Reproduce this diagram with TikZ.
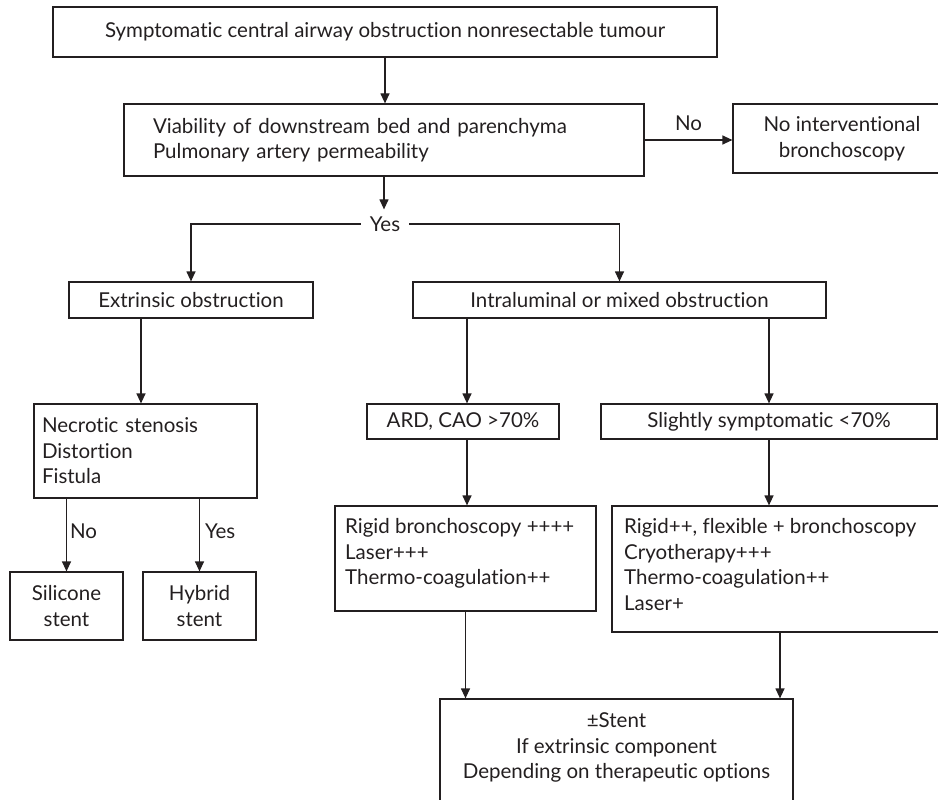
\documentclass[tikz,border=0pt]{standalone}
\usepackage{fontspec}
\setmainfont[Ligatures={NoCommon,NoRare,NoDiscretionary,NoContextual}]{Lato}
\usetikzlibrary{arrows.meta,calc}
\definecolor{ink}{HTML}{231F20}
\begin{document}
\begin{tikzpicture}[x=1pt,y=-1pt,
  every node/.style={text=ink,font=\fontsize{20.5}{25.5}\selectfont},
  box/.style={draw=ink,line width=1.2pt,inner sep=0pt,align=center},
  lbl/.style={inner sep=0pt,align=left,anchor=north west},
  arr/.style={draw=ink,line width=1.2pt,-{Triangle[length=10pt,width=9pt]}},
  ln/.style={draw=ink,line width=1.2pt}]
\useasboundingbox (0,0) rectangle (938,800);
% boxes
\node[box,minimum width=664pt,minimum height=50pt] (top) at (385,32) {Symptomatic central airway obstruction nonresectable tumour};
\node[box,minimum width=520pt,minimum height=72pt,text width=462pt,inner xsep=29pt,align=left] (via) at (384,140) {Viability of downstream bed and parenchyma\\Pulmonary artery permeability};
\node[box,minimum width=218pt,minimum height=69pt] (nobox) at (842,138.5) {No interventional\\bronchoscopy};
\node[inner xsep=9pt,inner ysep=7pt] (yes) at (385,224) {Yes};
\node[box,minimum width=244pt,minimum height=36pt] (ext) at (191,300) {Extrinsic obstruction};
\node[box,minimum width=413pt,minimum height=36pt] (intra) at (619.5,300) {Intraluminal or mixed obstruction};
\node[box,minimum width=223pt,minimum height=94pt,text width=207pt,inner xsep=8pt,align=left] (necro) at (145.5,451) {Necrotic stenosis\\Distortion\\Fistula};
\node[box,minimum width=113pt,minimum height=68pt] (sil) at (66.5,606) {Silicone\\stent};
\node[box,minimum width=113pt,minimum height=68pt] (hyb) at (199.5,606) {Hybrid\\stent};
\node[box,minimum width=192pt,minimum height=35pt] (ard) at (463,421.5) {ARD, CAO >70\%};
\node[box,minimum width=336pt,minimum height=35pt] (slight) at (769,421.5) {Slightly symptomatic <70\%};
\node[box,minimum width=261pt,minimum height=105pt] (rigl) at (465.5,558.5) {};
\node[lbl] (rigltext) at (345,518.5) {Rigid bronchoscopy ++++\\Laser+++\\Thermo-coagulation++};
\node[box,minimum width=340pt,minimum height=126pt] (rigr) at (782,569) {};
\node[lbl] (rigrtext) at (624,518.5) {Rigid++, flexible + bronchoscopy\\Cryotherapy+++\\Thermo-coagulation++\\Laser+};
\node[box,minimum width=353pt,minimum height=130pt] (bot) at (616.5,764) {};
\node[inner sep=0pt,align=center,anchor=north] (bottext) at (616.5,712.5) {±Stent\\If extrinsic component\\Depending on therapeutic options};
% connectors
\draw[arr] (top.south) -- (top.south |- via.north);
\draw[arr] (via.east) -- (via.east -| nobox.west) node[midway,above=9pt,inner sep=0pt] (nolbl) {No};
\draw[arr] (via.south) -- (via.south |- yes.north);
\draw[arr] (yes.west) -| (ext.north);
\draw[arr] (yes.east) -| (intra.north);
\draw[arr] ([xshift=-50pt]ext.south) -- ([xshift=-50pt]ext.south |- necro.north);
\draw[arr] (necro.south -| sil.north) -- (sil.north) node[pos=0.45,right=3pt,inner sep=0pt] (nolbl2) {No};
\draw[arr] (necro.south -| hyb.north) -- (hyb.north) node[pos=0.45,right=5pt,inner sep=0pt] (yeslbl2) {Yes};
\draw[arr] ([xshift=4pt]intra.south -| ard.north) -- ([xshift=4pt]ard.north);
\draw[arr] (intra.south -| slight.north) -- (slight.north);
\draw[arr] ([xshift=4pt]ard.south) -- ([xshift=4pt]ard.south |- rigl.north);
\draw[arr] (slight.south) -- (slight.south |- rigr.north);
\draw[arr] (rigl.south) -- (rigl.south |- bot.north);
\draw[arr] ([xshift=-2pt]rigr.south) -- ([xshift=-2pt]rigr.south |- bot.north);
\end{tikzpicture}
\end{document}
